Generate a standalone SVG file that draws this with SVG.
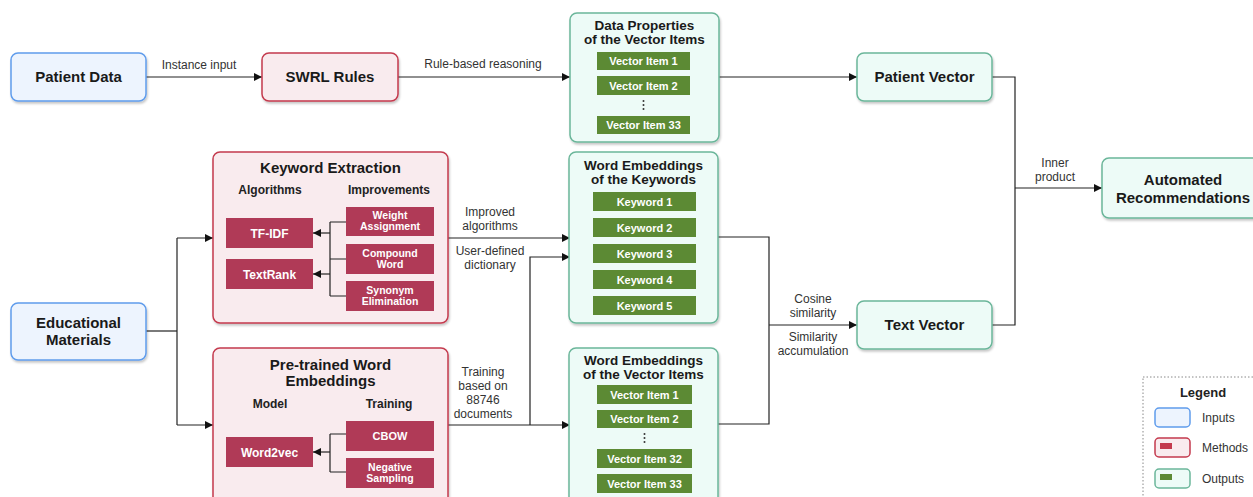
<svg xmlns="http://www.w3.org/2000/svg" width="1253" height="497" viewBox="0 0 1253 497">
  <defs>
    <filter id="sh" x="-10%" y="-10%" width="120%" height="130%">
      <feDropShadow dx="1" dy="2" stdDeviation="1.2" flood-color="#000" flood-opacity="0.22"/>
    </filter>
    <marker id="arr" viewBox="0 0 10 10" refX="10" refY="5" markerWidth="8" markerHeight="8" markerUnits="userSpaceOnUse" orient="auto">
      <path d="M0,0 L10,5 L0,10 z" fill="#111"/>
    </marker>
  </defs>
  <style>
    text { font-family: "Liberation Sans", Arial, sans-serif; }
    .input { fill: #edf4fe; stroke: #5f9cec; stroke-width: 1.5; filter: url(#sh); }
    .method { fill: #f9ebee; stroke: #c43a4e; stroke-width: 1.5; filter: url(#sh); }
    .output { fill: #edfbf7; stroke: #6bb69a; stroke-width: 1.5; filter: url(#sh); }
    .mbox { fill: #b03a57; }
    .gbox { fill: #5c8a34; }
    .title { font-size: 15px; font-weight: bold; fill: #1a1a1a; text-anchor: middle; }
    .ctitle { font-size: 13.5px; font-weight: bold; fill: #1a1a1a; text-anchor: middle; }
    .sub { font-size: 12px; font-weight: bold; fill: #222; text-anchor: middle; }
    .item { font-size: 11px; font-weight: bold; fill: #fff; text-anchor: middle; }
    .item2 { font-size: 10.5px; font-weight: bold; fill: #fff; text-anchor: middle; }
    .lbl { font-size: 12px; fill: #333; text-anchor: middle; }
    .wire { fill: none; stroke: #222; stroke-width: 1.2; }
    .dots { fill: #333; }
  </style>

  <!-- connectors -->
  <g id="connectors">
    <path class="wire" d="M146,77 H262" marker-end="url(#arr)"/>
    <text class="lbl" x="199" y="69">Instance input</text>
    <path class="wire" d="M398,77 H570" marker-end="url(#arr)"/>
    <text class="lbl" x="483" y="68">Rule-based reasoning</text>
    <path class="wire" d="M719,77 H857" marker-end="url(#arr)"/>
    <path class="wire" d="M992,77 H1015 V325 H992"/>
    <path class="wire" d="M1015,188 H1102" marker-end="url(#arr)"/>
    <text class="lbl" x="1055" y="167">Inner</text>
    <text class="lbl" x="1055" y="181">product</text>

    <path class="wire" d="M146,331 H177"/>
    <path class="wire" d="M177,238 V425"/>
    <path class="wire" d="M177,238 H213" marker-end="url(#arr)"/>
    <path class="wire" d="M177,425 H213" marker-end="url(#arr)"/>

    <path class="wire" d="M448,238 H570" marker-end="url(#arr)"/>
    <text class="lbl" x="490" y="216">Improved</text>
    <text class="lbl" x="490" y="230">algorithms</text>
    <text class="lbl" x="490" y="255">User-defined</text>
    <text class="lbl" x="490" y="269">dictionary</text>
    <path class="wire" d="M448,425 H570" marker-end="url(#arr)"/>
    <path class="wire" d="M530,425 V257 H570" marker-end="url(#arr)"/>
    <text class="lbl" x="483" y="376">Training</text>
    <text class="lbl" x="483" y="390">based on</text>
    <text class="lbl" x="483" y="404">88746</text>
    <text class="lbl" x="483" y="418">documents</text>

    <path class="wire" d="M718,237 H769 V424 H718"/>
    <path class="wire" d="M769,325 H857" marker-end="url(#arr)"/>
    <text class="lbl" x="813" y="303">Cosine</text>
    <text class="lbl" x="813" y="317">similarity</text>
    <text class="lbl" x="813" y="341">Similarity</text>
    <text class="lbl" x="813" y="355">accumulation</text>
  </g>

  <g id="patient-data">
    <rect class="input" x="11" y="53" width="135" height="48" rx="7"/>
    <text class="title" x="78.5" y="82">Patient Data</text>
  </g>

  <g id="swrl-rules">
    <rect class="method" x="262" y="53" width="136" height="48" rx="7"/>
    <text class="title" x="330" y="82">SWRL Rules</text>
  </g>

  <g id="data-properties">
    <rect class="output" x="570" y="13" width="149" height="129" rx="7"/>
    <text class="ctitle" x="644.5" y="29.5">Data Properties</text>
    <text class="ctitle" x="644.5" y="43.5">of the Vector Items</text>
    <rect class="gbox" x="597" y="52" width="93" height="18"/>
    <text class="item" x="643.5" y="65">Vector Item 1</text>
    <rect class="gbox" x="597" y="76" width="93" height="19"/>
    <text class="item" x="643.5" y="89.5">Vector Item 2</text>
    <circle class="dots" cx="643.5" cy="101" r="1"/>
    <circle class="dots" cx="643.5" cy="105" r="1"/>
    <circle class="dots" cx="643.5" cy="109" r="1"/>
    <rect class="gbox" x="597" y="116" width="93" height="18"/>
    <text class="item" x="643.5" y="129">Vector Item 33</text>
  </g>

  <g id="patient-vector">
    <rect class="output" x="857" y="53" width="135" height="48" rx="7"/>
    <text class="title" x="924.5" y="82">Patient Vector</text>
  </g>

  <g id="automated-recommendations">
    <rect class="output" x="1102" y="158" width="160" height="60" rx="7"/>
    <text class="title" x="1183" y="185">Automated</text>
    <text class="title" x="1183" y="203">Recommendations</text>
  </g>

  <g id="educational-materials">
    <rect class="input" x="11" y="303" width="135" height="57" rx="7"/>
    <text class="title" x="78.5" y="328">Educational</text>
    <text class="title" x="78.5" y="345">Materials</text>
  </g>

  <g id="keyword-extraction">
    <rect class="method" x="213" y="152" width="235" height="171" rx="7"/>
    <text class="title" x="330.5" y="173">Keyword Extraction</text>
    <text class="sub" x="270" y="194">Algorithms</text>
    <text class="sub" x="389" y="194">Improvements</text>
    <rect class="mbox" x="226" y="218" width="87" height="30"/>
    <text class="sub" x="269.5" y="237.5" style="fill:#fff">TF-IDF</text>
    <rect class="mbox" x="226" y="259" width="87" height="30"/>
    <text class="sub" x="269.5" y="278.5" style="fill:#fff">TextRank</text>
    <rect class="mbox" x="346" y="207" width="88" height="29"/>
    <text class="item2" x="390" y="219">Weight</text>
    <text class="item2" x="390" y="230">Assignment</text>
    <rect class="mbox" x="346" y="244" width="88" height="30"/>
    <text class="item2" x="390" y="257">Compound</text>
    <text class="item2" x="390" y="268">Word</text>
    <rect class="mbox" x="346" y="281" width="88" height="30"/>
    <text class="item2" x="390" y="294">Synonym</text>
    <text class="item2" x="390" y="305">Elimination</text>
    <path class="wire" d="M346,222 H330 M346,259 H330 M346,296 H330 M330,222 V296"/>
    <path class="wire" d="M330,233 H313" marker-end="url(#arr)"/>
    <path class="wire" d="M330,274 H313" marker-end="url(#arr)"/>
  </g>

  <g id="pretrained-embeddings">
    <rect class="method" x="213" y="348" width="235" height="160" rx="7"/>
    <text class="title" x="330.5" y="370">Pre-trained Word</text>
    <text class="title" x="330.5" y="386">Embeddings</text>
    <text class="sub" x="270" y="408">Model</text>
    <text class="sub" x="389" y="408">Training</text>
    <rect class="mbox" x="226" y="437" width="87" height="30"/>
    <text class="sub" x="269.5" y="456.5" style="fill:#fff">Word2vec</text>
    <rect class="mbox" x="346" y="421" width="88" height="30"/>
    <text class="item" x="390" y="440">CBOW</text>
    <rect class="mbox" x="346" y="458" width="88" height="30"/>
    <text class="item2" x="390" y="471">Negative</text>
    <text class="item2" x="390" y="482">Sampling</text>
    <path class="wire" d="M346,434 H330 M346,472 H330 M330,434 V472"/>
    <path class="wire" d="M330,452 H313" marker-end="url(#arr)"/>
  </g>

  <g id="keyword-embeddings">
    <rect class="output" x="569" y="152" width="149" height="171" rx="7"/>
    <text class="ctitle" x="643.5" y="169.5">Word Embeddings</text>
    <text class="ctitle" x="643.5" y="183.5">of the Keywords</text>
    <rect class="gbox" x="593" y="192" width="103" height="19"/>
    <text class="item" x="644.5" y="205.5">Keyword 1</text>
    <rect class="gbox" x="593" y="218" width="103" height="19"/>
    <text class="item" x="644.5" y="231.5">Keyword 2</text>
    <rect class="gbox" x="593" y="244" width="103" height="19"/>
    <text class="item" x="644.5" y="257.5">Keyword 3</text>
    <rect class="gbox" x="593" y="270" width="103" height="19"/>
    <text class="item" x="644.5" y="283.5">Keyword 4</text>
    <rect class="gbox" x="593" y="296" width="103" height="19"/>
    <text class="item" x="644.5" y="309.5">Keyword 5</text>
  </g>

  <g id="vector-item-embeddings">
    <rect class="output" x="569" y="348" width="149" height="160" rx="7"/>
    <text class="ctitle" x="643.5" y="365">Word Embeddings</text>
    <text class="ctitle" x="643.5" y="379">of the Vector Items</text>
    <rect class="gbox" x="597" y="385" width="95" height="19"/>
    <text class="item" x="644.5" y="398.5">Vector Item 1</text>
    <rect class="gbox" x="597" y="410" width="95" height="18"/>
    <text class="item" x="644.5" y="423">Vector Item 2</text>
    <circle class="dots" cx="644.5" cy="434" r="1"/>
    <circle class="dots" cx="644.5" cy="438" r="1"/>
    <circle class="dots" cx="644.5" cy="442" r="1"/>
    <rect class="gbox" x="597" y="449" width="95" height="19"/>
    <text class="item" x="644.5" y="462.5">Vector Item 32</text>
    <rect class="gbox" x="597" y="474" width="95" height="19"/>
    <text class="item" x="644.5" y="487.5">Vector Item 33</text>
  </g>

  <g id="text-vector">
    <rect class="output" x="857" y="301" width="135" height="48" rx="7"/>
    <text class="title" x="924.5" y="330">Text Vector</text>
  </g>

  <g id="legend">
    <rect x="1143" y="377" width="120" height="130" fill="#fff" stroke="#888" stroke-width="1" stroke-dasharray="1.5,2"/>
    <text class="sub" x="1203" y="397" style="font-size:13px">Legend</text>
    <rect class="input" x="1155" y="408" width="35" height="19" rx="4" style="filter:none"/>
    <text x="1202" y="422" style="font-size:12px;fill:#333">Inputs</text>
    <rect class="method" x="1155" y="438" width="35" height="19" rx="4" style="filter:none"/>
    <rect x="1160" y="443" width="12" height="6" fill="#c43a4e"/>
    <text x="1202" y="452" style="font-size:12px;fill:#333">Methods</text>
    <rect class="output" x="1155" y="469" width="35" height="19" rx="4" style="filter:none"/>
    <rect x="1160" y="474" width="12" height="6" fill="#5c8a34"/>
    <text x="1202" y="483" style="font-size:12px;fill:#333">Outputs</text>
  </g>
</svg>
